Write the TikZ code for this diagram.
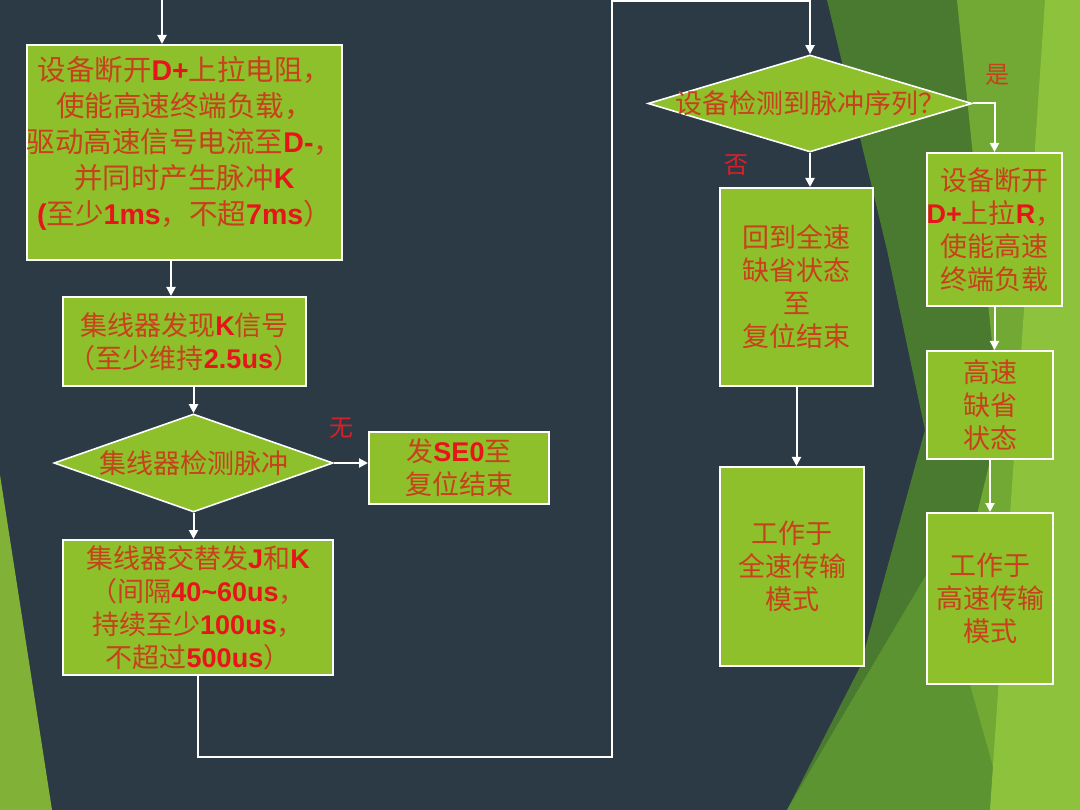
\documentclass[tikz,border=0pt]{standalone}
\usepackage{fontspec}
\setmainfont{Noto Sans CJK SC}
\newfontfamily\latfont{Liberation Sans}
\usetikzlibrary{arrows.meta,calc,positioning,shapes.geometric}
\definecolor{pizarra}{HTML}{2B3A44}
\definecolor{oliva}{HTML}{4A7A2F}
\definecolor{hierba}{HTML}{72A834}
\definecolor{lima}{HTML}{8CC23C}
\definecolor{musgo}{HTML}{5C9431}
\definecolor{verdecaja}{HTML}{8DC02A}
\definecolor{rojotxt}{HTML}{C8401C}
\definecolor{rojolat}{HTML}{E8141C}
\definecolor{rojoetiq}{HTML}{D8202A}
\newcommand{\rojo}[1]{{\latfont\bfseries\color{rojolat}#1}}

\begin{document}
\begin{tikzpicture}[x=1pt,y=-1pt,>={Triangle[length=9pt,width=9pt]},
    caja/.style={draw=white,line width=2pt,fill=verdecaja,align=center,inner sep=0pt,
      text=rojotxt,font=\fontsize{27}{33}\selectfont},
    rombo/.style={caja,shape=diamond,line width=1.6pt},
    flujo/.style={draw=white,line width=2pt,->},
    etiq/.style={text=rojoetiq,font=\fontsize{24}{24}\selectfont}]
        % fondo
        \fill[pizarra] (0,0) rectangle (1080,810);
        \useasboundingbox (0,0) rectangle (1080,810);
        \fill[oliva] (827,0) -- (1080,0) -- (1080,810) -- (787,810) -- (860,667) -- (925,430) -- (887,250) -- cycle;
        \fill[hierba] (957,0) -- (1080,0) -- (1080,810) -- (905,810) -- (1000,420) -- cycle;
        \fill[musgo] (787,810) -- (935,560) -- (1005,810) -- cycle;
        \fill[lima] (1045,0) -- (1080,0) -- (1080,810) -- (990,810) -- cycle;
        \fill[lima!92!black] (0,475) -- (52,810) -- (0,810) -- cycle;
        % columna izquierda
        \node[caja,minimum width=315pt,minimum height=215pt,font=\fontsize{28.5}{36}\selectfont] (desconexion) at (184.5,152.5)
          {设备断开\rojo{D+}上拉电阻，\\使能高速终端负载，\\驱动高速信号电流至\rojo{D-}，\\并同时产生脉冲\rojo{K}\\\rojo{(}至少\rojo{1ms}，不超\rojo{7ms}）\\[-12pt]\mbox{}};
        \node[caja,minimum width=243pt,minimum height=89pt] (hubK) at (184.5,341.5)
          {集线器发现\rojo{K}信号\\（至少维持\rojo{2.5us}）};
        \node[rombo,minimum width=279pt,minimum height=98pt] (hubDetecta) at (193.5,463)
          {\makebox[0pt]{集线器检测脉冲}};
        \node[caja,minimum width=180pt,minimum height=72pt] (envSE0) at (459,468)
          {发\rojo{SE0}至\\复位结束};
        \node[caja,minimum width=270pt,minimum height=135pt] (hubJK) at (198,607.5)
          {集线器交替发\rojo{J}和\rojo{K}\\（间隔\rojo{40\textasciitilde60us}，\\持续至少\rojo{100us}，\\不超过\rojo{500us}）};
        % columna derecha
        \node[rombo,minimum width=324pt,minimum height=97pt] (devDetecta) at (810,103.5)
          {\makebox[0pt]{设备检测到脉冲序列？}};
        \node[caja,minimum width=153pt,minimum height=198pt] (volverFS) at (796.5,287)
          {回到全速\\缺省状态\\至\\复位结束};
        \node[caja,minimum width=144pt,minimum height=199pt] (modoFS) at (792,566.5)
          {工作于\\全速传输\\模式};
        \node[caja,minimum width=135pt,minimum height=153pt] (devHS) at (994.5,229.5)
          {设备断开\\\rojo{D+}上拉\rojo{R}，\\使能高速\\终端负载};
        \node[caja,minimum width=126pt,minimum height=108pt] (defHS) at (990,405)
          {高速\\缺省\\状态};
        \node[caja,minimum width=126pt,minimum height=171pt] (modoHS) at (990,598.5)
          {工作于\\高速传输\\模式};
        \node[etiq] (sinPulso) at (341,428) {无};
        \node[etiq] (noSecuencia) at (736,165) {否};
        \node[etiq,text=rojotxt] (siSecuencia) at (997,75) {是};
        % conexiones
        \coordinate (entrada) at (162,0);
        \coordinate (bucleA) at (612,757);
        \coordinate (bucleB) at (612,1);
        \draw[flujo] (entrada) -- (entrada |- desconexion.north);
        \draw[flujo] ([xshift=-13.5pt]desconexion.south) -- ([xshift=-13.5pt]hubK.north);
        \draw[flujo] (hubDetecta.north |- hubK.south) -- (hubDetecta.north);
        \draw[flujo] (hubDetecta.east) -- (hubDetecta.east -| envSE0.west);
        \draw[flujo] (hubDetecta.south) -- (hubDetecta.south |- hubJK.north);
        \draw[flujo] (hubJK.south) |- (bucleA) -- (bucleB) -| (devDetecta.north);
        \draw[flujo] (devDetecta.south) -- (devDetecta.south |- volverFS.north);
        \draw[flujo] (devDetecta.east) -| (devHS.north);
        \draw[flujo] (volverFS.south) -- (volverFS.south |- modoFS.north);
        \draw[flujo] (devHS.south) -- (devHS.south |- defHS.north);
        \draw[flujo] (defHS.south) -- (defHS.south |- modoHS.north);
\end{tikzpicture}
\end{document}
